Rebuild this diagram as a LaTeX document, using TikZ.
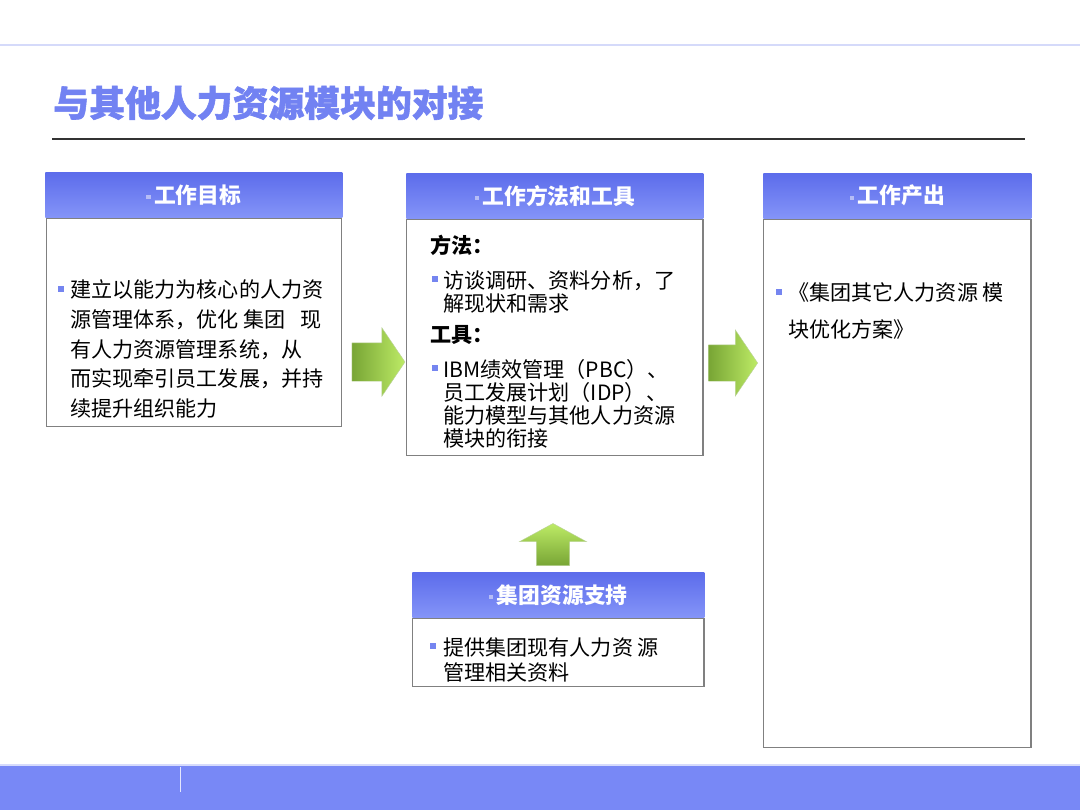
\documentclass[tikz,border=0pt]{standalone}
\usepackage{fontspec}
\setmainfont{Noto Sans CJK SC}
\newfontfamily\titlefont{Noto Sans CJK SC}[BoldFeatures={FakeBold=1.5}]
\usepackage{xcolor}
\definecolor{titleblue}{HTML}{7282F2}
\definecolor{hdrtop}{HTML}{5C6CEB}
\definecolor{hdrbot}{HTML}{8494F8}
\definecolor{bulletblue}{HTML}{7585F0}
\definecolor{framegray}{HTML}{808080}
\definecolor{footblue}{HTML}{7888F6}
\definecolor{topline}{HTML}{D5DAFA}
\definecolor{greendark}{HTML}{78A535}
\definecolor{greenlight}{HTML}{BDEB66}
\usepackage{tikz}
\usetikzlibrary{positioning,shapes.arrows}

\newcommand{\hdrdot}{\textcolor{white!55!hdrtop}{\rule[0.35ex]{3pt}{3pt}}\,}

\begin{document}
\begin{tikzpicture}[
  x=0.025cm,y=-0.025cm,
  hdr/.style={shade,top color=hdrtop,bottom color=hdrbot,text=white,
              font=\fontsize{15.5}{18}\selectfont\bfseries,
              minimum height=1.125cm,inner sep=0pt,anchor=north west},
  card/.style={draw=framegray,line width=1pt,fill=white,inner sep=0pt},
  bul/.style={fill=bulletblue,minimum size=4pt,inner sep=0pt},
  txt/.style={anchor=north west,inner sep=0pt,align=left,
              font=\fontsize{15}{#1}\selectfont},
  lbl/.style={anchor=north west,inner sep=0pt,
              font=\fontsize{15}{18}\selectfont\bfseries},
  garrow/.style={single arrow,shade,left color=greendark,right color=greenlight,
                 draw=greendark!50,line width=0.3pt,inner xsep=0pt}
]
  \useasboundingbox (0,0) rectangle (1080,810);
  \fill[white] (0,0) rectangle (1080,810);

  % title area
  \draw[topline,line width=1.5pt] (0,45) -- (1080,45);
  \node[anchor=west,inner sep=0pt,text=titleblue,
        font=\fontsize{25.5}{30}\selectfont\titlefont\bfseries] (title) at (53,103) {与其他人力资源模块的对接};
  \draw[black!80,line width=1pt] (52,139) -- (1025,139);

  % goal
  \node[hdr,minimum width=7.425cm] (h1) at (45,172) {\hdrdot 工作目标};
  \node[card,minimum width=7.375cm,minimum height=5.2cm,below=0pt of h1] (c1) {};
  \node[bul] (b1) at (61,289) {};
  \node[txt=21.3] (t1) at (70,279) {建立以能力为核心的人力资\\源管理体系，优化 集团 \ \ 现\\有人力资源管理系统，从\\而实现牵引员工发展，并持\\续提升组织能力};

  % methods and tools
  \node[hdr,minimum width=7.425cm] (h2) at (406,173) {\hdrdot 工作方法和工具};
  \node[card,minimum width=7.4cm,minimum height=5.9cm,below=0pt of h2] (c2) {};
  \node[lbl] (m1) at (430,235) {方法：};
  \node[bul] (b2) at (435,279) {};
  \node[txt=16.4] (t2) at (443,270) {访谈调研、资料分析，了\\解现状和需求};
  \node[lbl] (m2) at (430,325) {工具：};
  \node[bul] (b3) at (435,368) {};
  \node[txt=16.4] (t3) at (443,359) {IBM绩效管理（PBC）、\\员工发展计划（IDP）、\\能力模型与其他人力资源\\模块的衔接};

  % output
  \node[hdr,minimum width=6.7cm] (h3) at (763,173) {\hdrdot 工作产出};
  \node[card,minimum width=6.675cm,minimum height=13.2cm,below=0pt of h3] (c3) {};
  \node[bul] (b4) at (779,292) {};
  \node[txt=26.3] (t4) at (788,282) {《集团其它人力资源 模\\块优化方案》};

  % support
  \node[hdr,minimum width=7.3cm] (h4) at (412,572) {\hdrdot 集团资源支持};
  \node[card,minimum width=7.275cm,minimum height=1.7cm,below=0pt of h4] (c4) {};
  \node[bul] (b5) at (433,646) {};
  \node[txt=17.8] (t5) at (443,637) {提供集团现有人力资 源\\管理相关资料};

  % block arrows
  \node[garrow,inner ysep=0.475cm,minimum height=1.325cm,minimum width=1.7cm,
        single arrow head extend=0.375cm,single arrow tip angle=112] (a1) at (372,362) {};
  \node[garrow,inner ysep=0.45cm,minimum height=1.225cm,minimum width=1.65cm,
        single arrow head extend=0.375cm,single arrow tip angle=112] (a2) at (727,363) {};
  \node[garrow,top color=greenlight,bottom color=greendark,shape border rotate=90,
        inner xsep=0.41cm,inner ysep=0pt,minimum height=1.05cm,minimum width=1.675cm,
        single arrow head extend=0.425cm,single arrow tip angle=123] (a3) at (553,549) {};

  % footer
  \fill[footblue] (0,765) rectangle (1080,810);
  \draw[white!70!footblue,line width=0.8pt] (0,765) -- (1080,765);
  \draw[white!80!footblue,line width=0.6pt] (180,767) -- (180,792);
\end{tikzpicture}
\end{document}
